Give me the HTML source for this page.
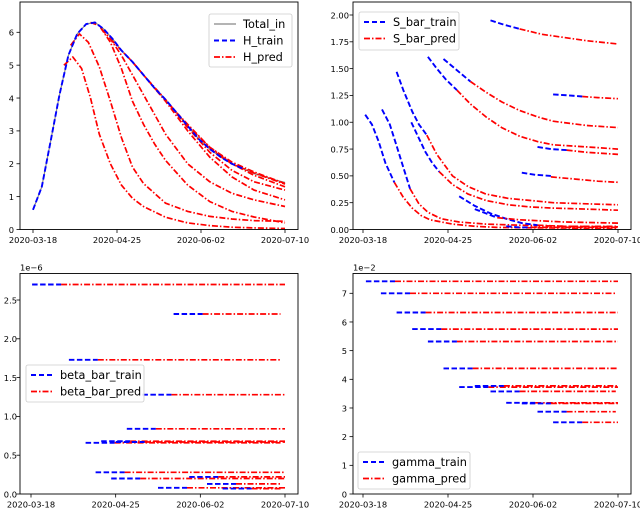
<!DOCTYPE html>
<html><head><meta charset="utf-8"><style>
body{margin:0;background:#fff;}
svg{display:block;font-family:"DejaVu Sans","Liberation Sans",sans-serif;}
</style></head><body>
<svg id="fig" width="640" height="509" viewBox="0 0 640 509"></svg>
<script>
// ---------- DATA ----------
const xTickLabels = ["2020-03-18","2020-04-25","2020-06-02","2020-07-10"];
const xTickDays = [0,38,76,114];
// Panel 1 (1e4)
const hYTicks = [0,1,2,3,4,5,6];
const totalDays = [0,4,8,12,16,20,24,28,32,36,40,45,50,55,60,65,70,75,80,85,90,95,100,105,110,114];
const totalVals = [0.6,1.3,2.7,4.1,5.3,5.95,6.25,6.3,6.1,5.8,5.45,5.1,4.7,4.3,3.95,3.55,3.15,2.75,2.45,2.2,2.0,1.85,1.7,1.6,1.5,1.43];
const hTrainEndIndex = 21;
const hPredDays = [
 [14,18,22,26,30,35,40,45,50,60,70,80,90,100,114],
 [17,21,25,30,35,40,45,50,60,70,80,90,100,114],
 [26,30,35,40,45,50,55,60,70,80,90,100,114],
 [31,35,40,45,50,55,60,70,80,90,100,114],
 [35,40,45,50,55,60,70,80,90,100,114],
 [45,50,60,70,80,90,100,114],
 [55,60,70,80,90,100,114],
 [65,70,80,90,100,114],
 [80,90,100,114]];
const hPredVals = [
 [5.0,5.25,4.9,4.0,2.9,2.0,1.35,0.95,0.7,0.37,0.2,0.12,0.07,0.05,0.03],
 [5.6,5.95,5.7,4.95,3.9,2.8,1.9,1.4,0.8,0.55,0.4,0.32,0.27,0.25],
 [6.3,6.2,5.7,4.9,3.9,3.2,2.6,2.1,1.35,0.85,0.55,0.38,0.2],
 [6.1,5.8,5.3,4.7,4.1,3.5,2.9,2.0,1.45,1.1,0.9,0.7],
 [5.8,5.45,5.1,4.7,4.3,3.9,3.0,2.2,1.6,1.2,0.9],
 [5.1,4.7,3.95,3.1,2.35,1.8,1.45,1.2],
 [4.3,3.95,3.15,2.5,2.0,1.65,1.3],
 [3.55,3.2,2.5,2.05,1.75,1.4],
 [2.45,2.0,1.72,1.38]];
// Panel 2 (1e5)
const sYTicks = [0,0.25,0.5,0.75,1.0,1.25,1.5,1.75,2.0];
const sTrainDays = [[1,4,7,10,14],[8.5,12,15,18,21],[15,18,22,25,28.5],[21.6,25,28,31,34],[29,33,37,42],[36,40,44,48],[57,63,70],[85,92,98],[78,84,91],[71,77,84],[43,50,57,64,71,78],[50,55,60],[64,70,75]];
const sTrainVals = [[1.07,0.98,0.82,0.62,0.44],[1.12,0.98,0.78,0.58,0.38],[1.47,1.3,1.1,0.98,0.88],[1.0,0.85,0.72,0.62,0.54],[1.61,1.5,1.4,1.3],[1.59,1.52,1.45,1.38],[1.95,1.91,1.87],[1.26,1.25,1.24],[0.77,0.75,0.74],[0.53,0.51,0.50],[0.31,0.22,0.15,0.10,0.06,0.04],[0.19,0.15,0.11],[0.03,0.02,0.02]];
const sPredDays = [[14,18,22,26,30,40,50,60,80,114],[21,25,29,35,43,55,70,90,114],[28.5,33,40,47,55,65,75,85,100,114],[34,40,47,55,65,75,85,100,114],[42,48,55,62,70,78,85,100,114],[48,55,62,70,78,85,100,114],[70,80,90,100,114],[98,105,114],[91,100,114],[84,95,105,114],[78,90,114],[60,70,80,90,114],[75,114]];
const sPredVals = [[0.44,0.3,0.2,0.13,0.09,0.05,0.03,0.02,0.015,0.01],[0.38,0.24,0.16,0.1,0.07,0.05,0.04,0.03,0.025],[0.88,0.7,0.5,0.4,0.33,0.29,0.27,0.25,0.24,0.23],[0.54,0.42,0.33,0.27,0.23,0.21,0.2,0.19,0.18],[1.3,1.17,1.05,0.95,0.87,0.82,0.79,0.77,0.75],[1.38,1.28,1.19,1.11,1.05,1.01,0.97,0.95],[1.87,1.82,1.79,1.76,1.73],[1.24,1.23,1.22],[0.74,0.72,0.70],[0.49,0.47,0.45,0.44],[0.04,0.03,0.03],[0.11,0.09,0.08,0.07,0.06],[0.02,0.02]];
// Panel 3 (1e-6)
const bYTicks = [0,0.5,1.0,1.5,2.0,2.5];
const betaStart = [0.5,64,17,50,43,24.5,31.5,38,29,36,71,57,79,86];
const betaVals = [2.70,2.32,1.73,1.28,0.84,0.66,0.68,0.67,0.28,0.20,0.22,0.08,0.13,0.07];
const betaEnd = [114,112,112,114,114,112,114,114,114,114,114,114,112,112];
// Panel 4 (1e-2)
const gYTicks = [0,1,2,3,4,5,6,7];
const gammaStart = [1.3,8,15,22,29,36,43,50,57,64,71,78,85];
const gammaVals = [7.42,7.0,6.33,5.75,5.32,4.38,3.73,3.77,3.58,3.18,3.16,2.87,2.50];
const gammaEnd = [114,113,114,114,114,114,114,114,113,114,114,113,114];
const trainLen = 13;

// ---------- DRAW ----------
const NS="http://www.w3.org/2000/svg";
const svg=document.getElementById('fig');
function el(tag,attrs,parent){const e=document.createElementNS(NS,tag);for(const k in attrs)e.setAttribute(k,attrs[k]);(parent||svg).appendChild(e);return e;}
const BLUE_DASH="5.5,2.5", RED_DASH="6,2,1.5,2";
const BW=1.9, RW=1.7;

function makePanel(name,L,R,T,B,d0x,d114x,yMax,yMin,yTicks,fmt,exp,labX){
  const g=el('g',{});
  
  
  const sx=d=>d0x+(d114x-d0x)*d/114;
  const sy=v=>B-(B-yMin)*v/yMax;
  const plot=el('g',{},g);
  
  
  yTicks.forEach(v=>{
    const y=sy(v);
    const t=el('line',{x1:L-3.5,x2:L,y1:y,y2:y,stroke:'#000','stroke-width':0.8},g);
    
    
    const lb=el('text',{x:labX,y:y+3.3,'font-size':8.3,'text-anchor':'end',fill:'#000'},g);
    lb.textContent=fmt(v);
    
    
  });
  xTickDays.forEach((d,i)=>{
    const x=sx(d);
    const t=el('line',{x1:x,x2:x,y1:B,y2:B+3.5,stroke:'#000','stroke-width':0.8},g);
    
    
    const lb=el('text',{x:x,y:B+13.5,'font-size':8.3,'text-anchor':'middle',fill:'#000'},g);
    lb.textContent=xTickLabels[i];
    
    
  });
  const ex=el('text',{x:L,y:T-3,'font-size':8.3,fill:'#000'},g);
  ex.textContent=exp;
  
  
  return {g,plot,sx,sy,L,R,T,B};
}
function frame(p){
  const r=el('rect',{x:p.L,y:p.T,width:p.R-p.L,height:p.B-p.T,fill:'none',stroke:'#000','stroke-width':0.9},p.g);
  
  
}
function poly(p,days,vals,color,dash,w,name){
  const pts=days.map((d,i)=>p.sx(d).toFixed(1)+','+p.sy(vals[i]).toFixed(1)).join(' ');
  const a={points:pts,fill:'none',stroke:color,'stroke-width':w,'stroke-linejoin':'round'};
  if(dash)a['stroke-dasharray']=dash;
  const e=el('polyline',a,p.plot);
  
  
}
function legend(p,x,y,w,h,items){
  const lg=el('g',{},p.g);
  
  
  el('rect',{x:x,y:y,width:w,height:h,fill:'#fff','fill-opacity':0.85,stroke:'#ccc','stroke-width':0.8,rx:2},lg);
  items.forEach((it,i)=>{
    const yy=y+10+i*16.5;
    const ent=el('g',{},lg);
    
    
    const a={x1:x+5,x2:x+27,y1:yy,y2:yy,stroke:it[1],'stroke-width':it[3]};
    if(it[2])a['stroke-dasharray']=it[2];
    el('line',a,ent);
    const t=el('text',{x:x+34,y:yy+4,'font-size':11.3,fill:'#000'},ent);
    t.textContent=it[0];
  });
}

// Panel 1
const p1=makePanel('h-panel',20,298,2,229.5,33,285,6,32.3,hYTicks,v=>String(v),'1e4',14);
poly(p1,totalDays,totalVals,'#888',null,1.2,'total-in-line');
hPredDays.forEach((ds,i)=>poly(p1,ds,hPredVals[i],'#ff0000',RED_DASH,RW,'h-pred-line'));
poly(p1,totalDays.slice(0,hTrainEndIndex+1),totalVals.slice(0,hTrainEndIndex+1),'#0000ff',BLUE_DASH,BW,'h-train-line');
frame(p1);
legend(p1,209,14,83,53,[['Total_in','#888',null,1.2],['H_train','#0000ff','5,3',BW],['H_pred','#ff0000',RED_DASH,RW]]);

// Panel 2
const p2=makePanel('s-bar-panel',353,631,2,229.5,363,618,2.0,15,sYTicks,v=>v.toFixed(2),'1e5',349);
sTrainDays.forEach((ds,i)=>{
  poly(p2,sPredDays[i],sPredVals[i],'#ff0000',RED_DASH,RW,'s-bar-pred-line');
  poly(p2,ds,sTrainVals[i],'#0000ff',BLUE_DASH,BW,'s-bar-train-line');
});
frame(p2);
legend(p2,359,12,100,38,[['S_bar_train','#0000ff','5,3',BW],['S_bar_pred','#ff0000',RED_DASH,RW]]);

// Panel 3
const p3=makePanel('beta-bar-panel',20,298,273.5,494,31,285,2.5,300,bYTicks,v=>v.toFixed(1),'1e\u22126',17);
betaStart.forEach((s,i)=>{
  poly(p3,[s+trainLen,betaEnd[i]],[betaVals[i],betaVals[i]],'#ff0000',RED_DASH,RW,'beta-bar-pred-line');
  poly(p3,[s,s+trainLen],[betaVals[i],betaVals[i]],'#0000ff',BLUE_DASH,BW,'beta-bar-train-line');
});
frame(p3);
legend(p3,26,365,118,37,[['beta_bar_train','#0000ff','5,3',BW],['beta_bar_pred','#ff0000',RED_DASH,RW]]);

// Panel 4
const p4=makePanel('gamma-panel',353,631,273.5,494,363,618,7,293.3,gYTicks,v=>String(v),'1e\u22122',347);
gammaStart.forEach((s,i)=>{
  poly(p4,[s+trainLen,gammaEnd[i]],[gammaVals[i],gammaVals[i]],'#ff0000',RED_DASH,RW,'gamma-pred-line');
  poly(p4,[s,s+trainLen],[gammaVals[i],gammaVals[i]],'#0000ff',BLUE_DASH,BW,'gamma-train-line');
});
frame(p4);
legend(p4,358,452,112,37,[['gamma_train','#0000ff','5,3',BW],['gamma_pred','#ff0000',RED_DASH,RW]]);
</script>
</body></html>
